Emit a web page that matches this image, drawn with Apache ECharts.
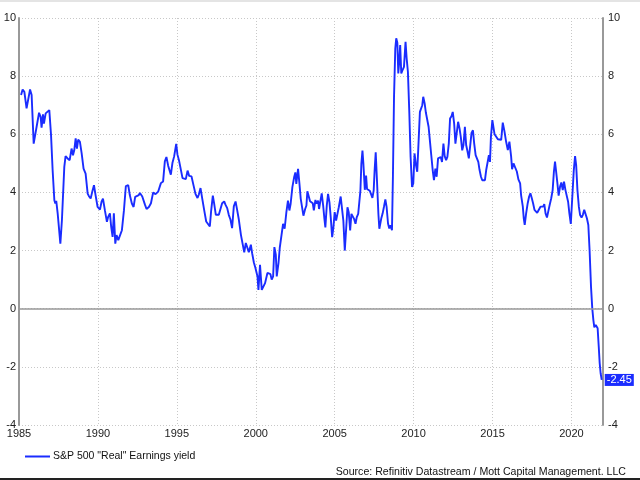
<!DOCTYPE html>
<html>
<head>
<meta charset="utf-8">
<script src="https://cdn.jsdelivr.net/npm/echarts@6/dist/echarts.min.js"></script>
<style>html,body{margin:0;padding:0;background:#fff;}#c{width:640px;height:480px;}</style>
</head>
<body>
<div id="c"></div>
<script>
var seriesName = 'S&P 500 "Real" Earnings yield';
var sourceText = 'Source: Refinitiv Datastream / Mott Capital Management. LLC';
var years = [
1985.13,1985.23,1985.34,1985.48,1985.55,1985.70,1985.80,1985.93,1986.05,1986.27,1986.37,1986.43,1986.52,1986.58,1986.69,1986.79,1986.92,
1987.03,1987.13,1987.24,1987.30,1987.36,1987.45,1987.62,1987.72,1987.87,1987.95,1988.08,1988.21,1988.33,1988.42,1988.50,1988.59,1988.67,
1988.75,1988.86,1988.97,1989.09,1989.22,1989.35,1989.43,1989.54,1989.64,1989.75,1989.85,1989.98,1990.13,1990.23,1990.32,1990.44,1990.57,
1990.65,1990.76,1990.84,1990.93,1991.01,1991.10,1991.18,1991.29,1991.41,1991.52,1991.65,1991.77,1991.92,1992.02,1992.15,1992.26,1992.36,
1992.47,1992.59,1992.66,1992.81,1992.98,1993.08,1993.23,1993.36,1993.50,1993.65,1993.82,1993.99,1994.13,1994.24,1994.34,1994.45,1994.53,
1994.62,1994.72,1994.83,1994.96,1995.04,1995.15,1995.25,1995.36,1995.47,1995.57,1995.68,1995.78,1995.93,1996.05,1996.18,1996.31,1996.39,
1996.50,1996.62,1996.73,1996.86,1996.98,1997.09,1997.17,1997.28,1997.36,1997.47,1997.57,1997.66,1997.76,1997.87,1998.00,1998.08,1998.19,
1998.29,1998.40,1998.50,1998.61,1998.72,1998.82,1998.93,1999.06,1999.16,1999.27,1999.37,1999.48,1999.56,1999.69,1999.77,1999.88,1999.98,
2000.11,2000.17,2000.27,2000.38,2000.46,2000.59,2000.74,2000.84,2000.93,2001.01,2001.10,2001.18,2001.27,2001.33,2001.44,2001.52,2001.61,
2001.73,2001.83,2001.94,2002.04,2002.13,2002.21,2002.32,2002.43,2002.51,2002.57,2002.68,2002.77,2002.85,2002.94,2003.02,2003.13,2003.21,
2003.27,2003.36,2003.44,2003.53,2003.61,2003.68,2003.78,2003.87,2003.95,2004.01,2004.10,2004.18,2004.27,2004.35,2004.41,2004.50,2004.58,
2004.67,2004.75,2004.84,2004.92,2005.00,2005.09,2005.17,2005.26,2005.38,2005.47,2005.55,2005.64,2005.72,2005.81,2005.89,2005.98,2006.06,
2006.15,2006.23,2006.32,2006.40,2006.49,2006.57,2006.63,2006.69,2006.76,2006.82,2006.91,2006.99,2007.05,2007.14,2007.22,2007.30,2007.39,
2007.47,2007.53,2007.60,2007.68,2007.77,2007.83,2007.95,2008.04,2008.12,2008.21,2008.29,2008.38,2008.46,2008.54,2008.63,2008.69,2008.76,
2008.84,2008.90,2008.97,2009.03,2009.09,2009.15,2009.22,2009.30,2009.39,2009.45,2009.49,2009.56,2009.64,2009.73,2009.81,2009.90,2009.98,
2010.06,2010.15,2010.23,2010.32,2010.40,2010.48,2010.55,2010.61,2010.70,2010.78,2010.87,2010.95,2011.04,2011.12,2011.21,2011.29,2011.38,
2011.46,2011.55,2011.63,2011.72,2011.80,2011.89,2011.97,2012.06,2012.14,2012.23,2012.31,2012.40,2012.48,2012.57,2012.65,2012.74,2012.82,
2012.91,2012.99,2013.08,2013.16,2013.25,2013.33,2013.42,2013.50,2013.59,2013.67,2013.76,2013.84,2013.93,2014.01,2014.10,2014.18,2014.27,
2014.35,2014.44,2014.52,2014.60,2014.69,2014.77,2014.84,2014.90,2014.99,2015.13,2015.23,2015.34,2015.44,2015.55,2015.65,2015.76,2015.86,
2015.97,2016.07,2016.18,2016.24,2016.33,2016.43,2016.54,2016.64,2016.75,2016.81,2016.92,2016.98,2017.04,2017.13,2017.23,2017.32,2017.40,
2017.49,2017.57,2017.66,2017.74,2017.83,2017.93,2018.04,2018.13,2018.21,2018.28,2018.36,2018.45,2018.53,2018.62,2018.72,2018.81,2018.89,
2018.96,2019.02,2019.10,2019.19,2019.28,2019.36,2019.45,2019.53,2019.62,2019.70,2019.79,2019.87,2019.96,2020.06,2020.15,2020.23,2020.30,
2020.38,2020.47,2020.55,2020.64,2020.72,2020.81,2020.89,2020.98,2021.07,2021.15,2021.24,2021.32,2021.39,2021.45,2021.54,2021.60,2021.66,
2021.73,2021.79,2021.85,2021.92
];
var values = [
7.35,7.54,7.46,6.89,6.83,7.54,7.35,5.68,5.63,6.74,6.60,6.23,6.69,6.37,6.72,6.72,6.83,
5.97,4.77,3.73,3.62,3.71,3.28,2.24,3.05,4.88,5.25,5.17,5.11,5.51,5.28,5.45,5.86,5.51,
5.82,5.74,5.34,4.82,4.65,3.96,3.87,3.79,4.02,4.25,3.91,3.50,3.41,3.68,3.79,3.39,2.99,
3.16,3.28,2.82,2.47,3.28,2.24,2.53,2.36,2.36,2.70,3.39,4.22,4.25,3.91,3.62,3.50,3.85,
3.79,3.91,3.98,3.86,3.58,3.43,3.50,3.63,4.00,3.94,4.03,4.32,4.38,5.07,5.22,4.92,4.95,
4.61,5.01,5.24,5.67,5.30,5.07,5.01,4.49,4.55,4.46,4.75,4.57,4.55,4.26,3.95,3.81,3.92,
4.15,3.75,3.40,3.00,2.94,2.83,3.35,3.89,3.63,3.23,3.29,3.23,3.17,3.63,3.69,3.58,3.46,
3.23,3.06,2.77,3.52,3.69,3.40,3.06,2.54,2.49,1.94,2.26,2.08,1.94,2.20,1.91,1.59,1.40,
1.11,0.65,1.51,0.65,0.60,0.88,1.23,1.28,1.19,1.00,1.11,2.12,1.86,1.11,1.57,2.09,2.15,
2.92,2.75,3.32,3.72,3.38,3.61,4.18,4.52,4.69,4.29,4.81,4.29,3.78,3.72,3.20,3.43,3.55,
4.04,4.01,3.70,3.66,3.63,3.38,3.74,3.61,3.72,3.43,3.72,3.97,3.55,3.09,2.80,3.55,3.95,
3.66,3.15,2.46,2.80,3.32,3.03,2.97,3.49,3.86,3.89,3.03,2.00,2.69,3.49,3.32,2.69,3.26,
3.26,3.09,2.92,3.15,3.26,3.32,4.06,4.98,5.44,4.98,4.09,4.58,4.12,4.09,4.06,3.95,3.81,
4.06,4.75,5.38,4.41,3.26,2.75,3.10,3.28,3.50,3.76,3.50,2.93,2.76,2.87,2.70,4.54,7.29,
8.95,9.30,9.15,8.09,8.49,9.07,8.09,8.21,8.32,8.84,9.18,8.61,8.15,6.72,5.22,4.19,4.31,
5.34,4.94,4.71,5.80,6.77,6.83,7.00,7.29,7.06,6.74,6.72,6.26,5.74,5.28,4.77,4.42,4.82,
4.54,5.17,5.11,5.22,5.05,5.68,5.25,5.11,5.22,5.68,6.54,6.62,6.77,6.37,5.68,5.63,6.43,
6.20,5.91,5.45,5.63,6.26,5.63,5.40,5.17,5.63,6.05,6.14,5.68,5.28,5.22,5.05,4.77,4.54,
4.42,4.39,4.42,4.77,4.79,5.28,5.05,5.91,6.49,6.00,5.98,5.83,5.78,5.81,6.40,6.09,5.75,
5.46,5.75,5.23,4.80,5.00,4.98,4.72,4.45,4.31,3.91,3.51,3.11,2.88,3.28,3.63,3.86,3.97,
3.80,3.63,3.40,3.45,3.30,3.28,3.51,3.53,3.51,3.60,3.28,3.14,3.34,3.57,3.80,4.08,4.72,
5.06,4.77,4.37,3.89,4.20,4.34,4.08,4.37,4.08,4.08,3.68,3.28,2.92,2.92,4.77,5.25,4.94,
4.08,3.51,3.22,3.14,3.22,3.40,3.34,3.11,2.88,2.02,0.76,0.01,-0.39,-0.64,-0.56,-0.53,-0.67,
-1.30,-1.87,-2.22,-2.45
];

var data = years.map(function (y, i) { return [y, values[i]]; });
var lineColor = '#1a2cff';
var font = 'Arial, "Liberation Sans", sans-serif';

var chart = echarts.init(document.getElementById('c'), null, {renderer: 'canvas'});
var yAxisCommon = {
  type: 'value', min: -4, max: 10, interval: 2,
  axisLine: {show: true, lineStyle: {color: '#999', width: 2}},
  axisTick: {show: false},
  splitLine: {show: true, lineStyle: {color: '#c8c8c8', type: [1, 2], width: 1}},
  axisLabel: {color: '#222', fontSize: 11, fontFamily: font}
};
chart.setOption({
  animation: false,
  backgroundColor: '#fff',
  grid: {left: 19, right: 37, top: 18, bottom: 55, containLabel: false},
  title: {
    text: sourceText, right: 9, top: 462,
    textStyle: {fontSize: 10.6, fontWeight: 'normal', color: '#111', fontFamily: font}
  },
  legend: {
    left: 20, top: 446, icon: 'rect', itemWidth: 25, itemHeight: 2, itemGap: 10,
    textStyle: {fontSize: 10.5, color: '#111', fontFamily: font, padding: [0, 0, 0, -2]},
    data: [seriesName]
  },
  xAxis: {
    type: 'value', min: 1985, max: 2022, interval: 5,
    axisLine: {show: false},
    axisTick: {show: false},
    splitLine: {show: true, lineStyle: {color: '#c8c8c8', type: [1, 2], width: 1}},
    axisLabel: {color: '#222', fontSize: 11, fontFamily: font, margin: 3, showMaxLabel: false,
      formatter: function (v) { return String(v); }}
  },
  yAxis: [
    Object.assign({}, yAxisCommon, {position: 'left', axisLabel: Object.assign({}, yAxisCommon.axisLabel, {margin: 3})}),
    Object.assign({}, yAxisCommon, {position: 'right', splitLine: {show: false}, axisLabel: Object.assign({}, yAxisCommon.axisLabel, {margin: 5})})
  ],
  series: [{
    name: seriesName,
    type: 'line',
    data: data,
    yAxisIndex: 0,
    showSymbol: false,
    symbol: 'none',
    lineStyle: {color: lineColor, width: 1.9},
    itemStyle: {color: lineColor},
    endLabel: {
      show: true, distance: 3,
      formatter: function (p) { return p.value[1].toFixed(2); },
      backgroundColor: lineColor, color: '#fff', padding: [1, 2, 0, 2],
      fontSize: 11, fontFamily: font
    },
    markLine: {
      silent: true, symbol: 'none', label: {show: false},
      lineStyle: {color: '#999', type: 'solid', width: 1.5},
      data: [{yAxis: 0}]
    }
  }],
  graphic: [
    {type: 'rect', left: 0, top: 0, shape: {width: 640, height: 2}, style: {fill: '#e4e4e4'}, silent: true},
    {type: 'rect', left: 0, top: 478, shape: {width: 640, height: 2}, style: {fill: '#222'}, silent: true}
  ]
});
</script>
</body>
</html>
